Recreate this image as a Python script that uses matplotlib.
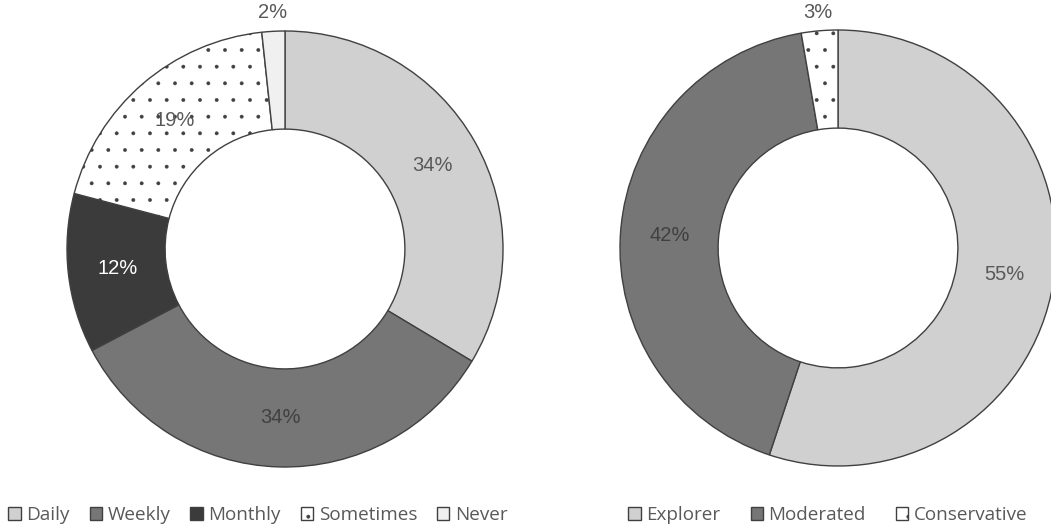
import matplotlib
matplotlib.use("Agg")
import matplotlib.pyplot as plt
from matplotlib.patches import Patch
import numpy as np

# Data
freq_labels = ["Daily", "Weekly", "Monthly", "Sometimes", "Never"]
freq_values = [33.6, 33.7, 11.8, 19.2, 1.7]
profile_labels = ["Explorer", "Moderated", "Conservative"]
profile_values = [55.1, 42.2, 2.7]

freq_colors = ["#d0d0d0", "#767676", "#3b3b3b", "#ffffff", "#f0f0f0"]
freq_hatch = [None, None, None, ".", None]
freq_txt = ["#595959", "#404040", "#ffffff", "#595959", "#595959"]
prof_colors = ["#d0d0d0", "#767676", "#ffffff"]
prof_hatch = [None, None, "."]
prof_txt = ["#595959", "#404040", "#595959"]

plt.rcParams["hatch.color"] = "#202020"
plt.rcParams["hatch.linewidth"] = 0.3

W, H = 1051, 531
fig = plt.figure(figsize=(W / 100, H / 100), dpi=100)

R = 218


def make_ax(cx, cy):
    return fig.add_axes([(cx - R) / W, (H - cy - R) / H, 2 * R / W, 2 * R / H])


def donut(ax, values, colors, hatches, txtcols, small_idx):
    wedges, _, autotexts = ax.pie(
        values, colors=colors, startangle=90, counterclock=False,
        radius=1.0, autopct=lambda p: f"{p:.0f}%", pctdistance=0.775,
        wedgeprops=dict(width=0.45, edgecolor="#404040", linewidth=1.0),
        textprops=dict(fontsize=14.5, family="Liberation Sans"))
    for w, h in zip(wedges, hatches):
        if h:
            w.set_hatch(h)
    for t, c in zip(autotexts, txtcols):
        t.set_color(c)
    for i in small_idx:
        w = wedges[i]
        ang = np.deg2rad((w.theta1 + w.theta2) / 2)
        autotexts[i].set_position((1.085 * np.cos(ang), 1.085 * np.sin(ang)))
    ax.set_xlim(-1, 1)
    ax.set_ylim(-1, 1)
    ax.set_aspect("equal")
    ax.axis("off")
    return wedges


ax1 = make_ax(285, 249)
donut(ax1, freq_values, freq_colors, freq_hatch, freq_txt, [4])
ax2 = make_ax(838, 248)
donut(ax2, profile_values, prof_colors, prof_hatch, prof_txt, [2])


def legend(labels, colors, hatches, cx, colsp):
    handles = [Patch(facecolor=c, edgecolor="#404040", hatch=h, linewidth=1.0)
               for c, h in zip(colors, hatches)]
    leg = fig.legend(handles, labels, loc="center", bbox_to_anchor=(cx / W, 1 - 515 / H),
                     ncol=len(labels), frameon=False, handlelength=0.65, handleheight=0.65,
                     handletextpad=0.3, columnspacing=colsp,
                     prop=dict(family="Open Sans", size=13.6))
    for t in leg.get_texts():
        t.set_color("#595959")
    return leg


legend(freq_labels, freq_colors, freq_hatch, 258, 1.05)
legend(profile_labels, prof_colors, prof_hatch, 828, 1.6)

fig.savefig("out.png", dpi=100)
